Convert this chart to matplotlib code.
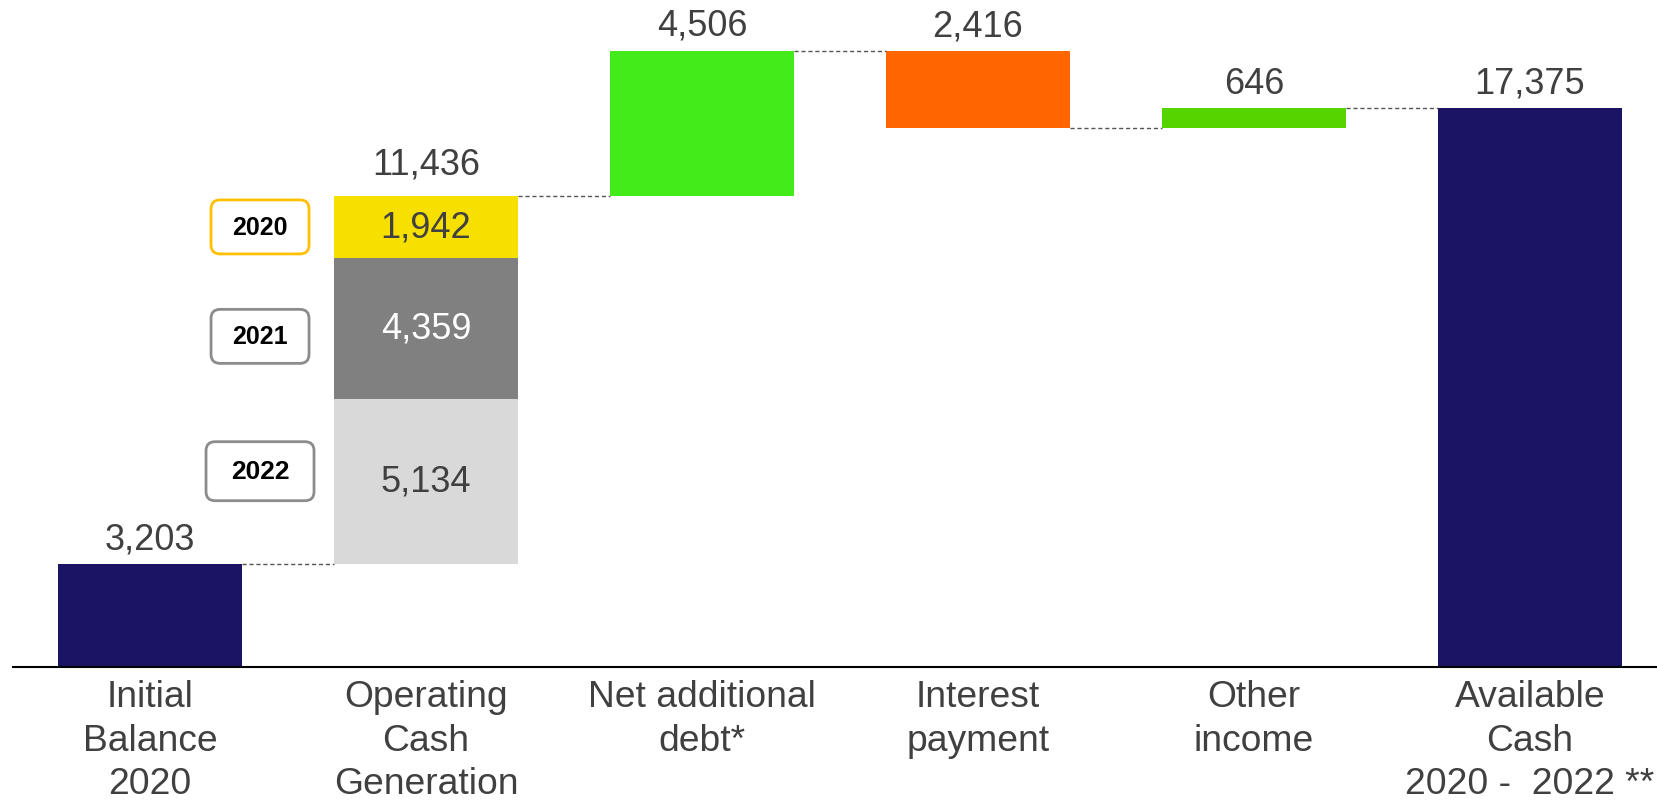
import matplotlib
matplotlib.use("Agg")
import matplotlib.pyplot as plt
from matplotlib.patches import FancyBboxPatch

plt.rcParams['font.family'] = ['Liberation Sans', 'DejaVu Sans']

categories = ["Initial\nBalance\n2020", "Operating\nCash\nGeneration", "Net additional\ndebt*",
              "Interest\npayment", "Other\nincome", "Available\nCash\n2020 -  2022 **"]
initial_balance = 3203
ocg_years = ["2022", "2021", "2020"]          # stacked from bottom
ocg_values = [5134, 4359, 1942]
ocg_total = 11436
net_debt = 4506
interest = -2416
other_income = 646
available_cash = 17375

navy = "#1B1363"
txt = "#404040"
ocg_colors = ["#D9D9D9", "#808080", "#F7E000"]
ocg_text_colors = [txt, "white", txt]
year_edge = ["#8C8C8C", "#8C8C8C", "#FFC000"]

fig = plt.figure(figsize=(16.58, 8.03), dpi=100)
ax = fig.add_axes([13 / 1658, 135 / 803, 1 - 13 / 1658, 668 / 803])
ax.set_xlim(-0.496, 5.464)
ax.set_ylim(0, 20745)

w = 0.667
x = list(range(len(categories)))

# initial balance
ax.bar(x[0], initial_balance, w, color=navy)

# operating cash generation, stacked by year
bottom = initial_balance
seg_mid = []
for v, c, tc in zip(ocg_values, ocg_colors, ocg_text_colors):
    ax.bar(x[1], v, w, bottom=bottom, color=c)
    ax.text(x[1], bottom + v / 2, f"{v:,}", ha="center", va="center", fontsize=26, color=tc)
    seg_mid.append(bottom + v / 2)
    bottom += v
lvl1 = initial_balance + ocg_total

# net additional debt
ax.bar(x[2], net_debt, w, bottom=lvl1, color="#44EB1A")
lvl2 = lvl1 + net_debt
# interest
ax.bar(x[3], -interest, w, bottom=lvl2 + interest, color="#FF6600")
lvl3 = lvl2 + interest
# other income
ax.bar(x[4], other_income, w, bottom=lvl3, color="#55D400")
lvl4 = lvl3 + other_income
# final
ax.bar(x[5], available_cash, w, color=navy)

# value labels
tops = [initial_balance, lvl1, lvl2, lvl2, lvl4, available_cash]
vals = [initial_balance, ocg_total, net_debt, -interest, other_income, available_cash]
gaps = [5, 10, 6, 5, 5, 5]
for xi, t, v, g in zip(x, tops, vals, gaps):
    ax.annotate(f"{v:,}", (xi, t), xytext=(0, g), textcoords="offset points",
                ha="center", va="bottom", fontsize=26, color=txt)

# dashed connectors
levels = [initial_balance, lvl1, lvl2, lvl3, lvl4]
for i, lv in enumerate(levels):
    ax.plot([x[i] + w / 2, x[i + 1] - w / 2], [lv, lv], ls=(0, (3, 2)), lw=1, color="#555555")

# year boxes (drawn in pixel coords so corners stay round)
fig.canvas.draw()
box_dy = [10, -8, 0]
box_size = [(108, 59), (98, 54), (98, 54)]
box_fs = [19, 18, 18]
for yr, ym, ec, dy, (bw, bh), fs in zip(ocg_years, seg_mid, year_edge, box_dy, box_size, box_fs):
    px, py = ax.transData.transform((0.399, ym))
    py += dy
    p = FancyBboxPatch((px - bw / 2, py - bh / 2), bw, bh,
                       boxstyle="round,pad=0,rounding_size=9",
                       fc="white", ec=ec, lw=2, transform=None, figure=fig)
    fig.patches.append(p)
    fig.text(px / 1658, py / 803, yr, ha="center", va="center", fontsize=fs,
             fontweight="bold", color="black")

ax.set_xticks(x)
ax.set_xticklabels(categories, fontsize=26.8, color=txt, linespacing=1.3)
ax.tick_params(axis="x", length=0, pad=9)
ax.set_yticks([])
for s in ["top", "right", "left"]:
    ax.spines[s].set_visible(False)
ax.spines["bottom"].set_color("black")
ax.spines["bottom"].set_linewidth(1.5)

fig.savefig("out.png", dpi=100)
